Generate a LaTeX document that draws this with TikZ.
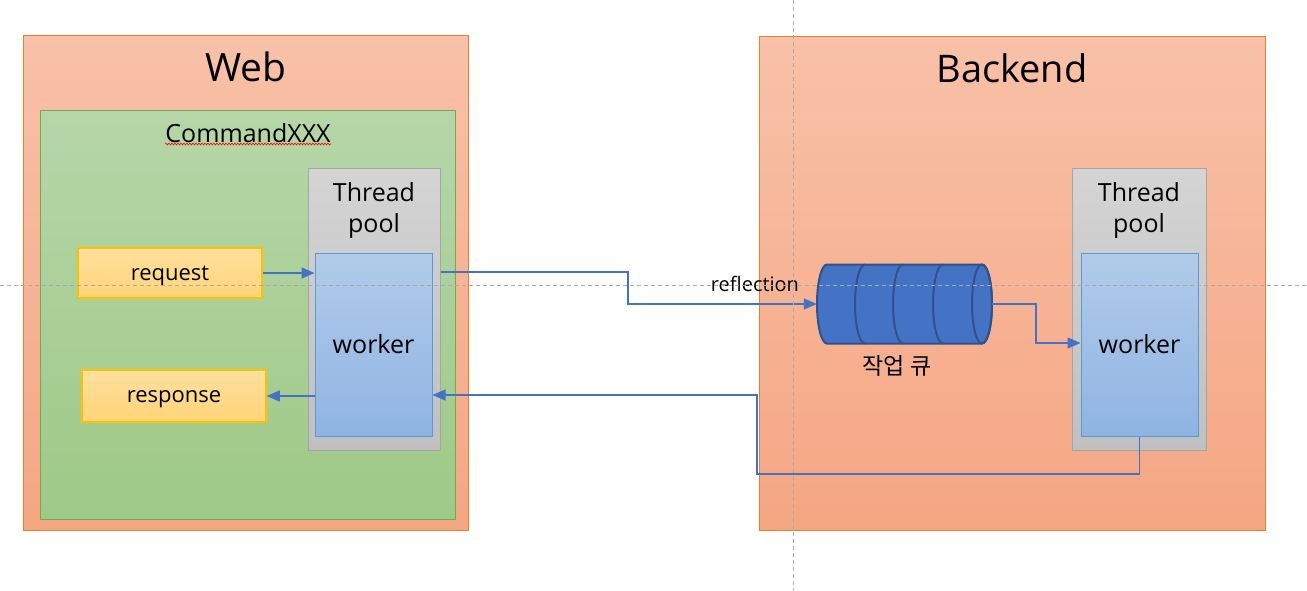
\documentclass[tikz,border=0pt]{standalone}
\usepackage{fontspec}
\setmainfont{Open Sans}
\newfontfamily\krfont{Noto Sans CJK KR}
\usetikzlibrary{arrows.meta,decorations.pathmorphing}
\definecolor{peachtop}{RGB}{248,193,168}
\definecolor{peachbot}{RGB}{245,166,131}
\definecolor{peachline}{RGB}{237,125,49}
\definecolor{greentop}{RGB}{182,214,168}
\definecolor{greenbot}{RGB}{158,201,134}
\definecolor{greenline}{RGB}{112,173,71}
\definecolor{graytop}{RGB}{212,212,212}
\definecolor{graybot}{RGB}{192,192,192}
\definecolor{grayline}{RGB}{165,165,165}
\definecolor{bluetop}{RGB}{178,203,233}
\definecolor{bluebot}{RGB}{143,180,227}
\definecolor{blueline}{RGB}{91,155,213}
\definecolor{yellowtop}{RGB}{255,224,158}
\definecolor{yellowbot}{RGB}{255,212,120}
\definecolor{yellowline}{RGB}{255,192,0}
\definecolor{flowblue}{RGB}{68,114,196}
\definecolor{queuedark}{RGB}{47,82,143}
\definecolor{guide}{RGB}{170,170,170}

\tikzset{
  tier/.style={draw=peachline, line width=1pt, top color=peachtop, bottom color=peachbot, inner sep=0pt},
  cmdbox/.style={draw=greenline, line width=1pt, top color=greentop, bottom color=greenbot, inner sep=0pt},
  poolbox/.style={draw=grayline, line width=1pt, top color=graytop, bottom color=graybot, inner sep=0pt},
  workbox/.style={draw=blueline, line width=1pt, top color=bluetop, bottom color=bluebot, inner sep=0pt,
    font=\fontsize{25}{30}\selectfont},
  msgbox/.style={draw=yellowline, line width=1.5pt, top color=yellowtop, bottom color=yellowbot, inner sep=0pt,
    minimum width=184, text depth=0pt, font=\fontsize{22}{26}\selectfont},
  flow/.style={draw=flowblue, line width=1.3pt, -{Triangle[length=13pt,width=11pt]}},
  qline/.style={draw=queuedark, line width=2pt}
}

\begin{document}
\begin{tikzpicture}[x=1pt,y=-1pt]
\useasboundingbox (0,0) rectangle (1307,590);
% Web side
\node[tier, minimum width=445, minimum height=495] (web) at (245.5,282.5) {};
\node[font=\fontsize{39}{46}\selectfont] (webtitle) at (246,67) {Web};
\node[cmdbox, minimum width=415, minimum height=409] (cmd) at (247.5,314.5) {};
\node[font=\fontsize{25}{30}\selectfont] (cmdtitle) at (248,133) {CommandXXX};
\draw[red, line width=0.6pt, decorate, decoration={snake, amplitude=0.9pt, segment length=3pt}]
  (165,144) -- (331,144);
\node[poolbox, minimum width=132, minimum height=282] (wpool) at (374,309) {};
\node[align=center, font=\fontsize{25}{31}\selectfont] (wpooltitle) at (374,210) {Thread\\pool};
\node[workbox, minimum width=117, minimum height=183] (wwork) at (373.5,344.5) {worker};
\node[msgbox, minimum height=50] (wreq) at (170,273) {request};
\node[msgbox, minimum height=52] (wres) at (174,396) {response};

% Backend side
\node[tier, minimum width=506, minimum height=494] (back) at (1012,283) {};
\node[font=\fontsize{38}{45}\selectfont] (backtitle) at (1012,68) {Backend};
\node[poolbox, minimum width=134, minimum height=282] (bpool) at (1139,309) {};
\node[align=center, font=\fontsize{25}{31}\selectfont] (bpooltitle) at (1139,210) {Thread\\pool};
\node[workbox, minimum width=117, minimum height=183] (bwork) at (1139.5,344.5) {worker};

% Queue
\node[minimum width=175, minimum height=79, inner sep=0pt] (queue) at (904.5,304) {};
\draw[qline, fill=flowblue] (827,264.5) -- (982,264.5)
  arc[start angle=90, end angle=-90, x radius=10pt, y radius=39.5pt] -- (827,343.5)
  arc[start angle=270, end angle=90, x radius=10pt, y radius=39.5pt] -- cycle;
\draw[qline] (982,304) ellipse[x radius=10pt, y radius=39.5pt];
\foreach \x in {865,903,943} {
  \draw[qline] (\x,264.5) arc[start angle=90, end angle=270, x radius=10pt, y radius=39.5pt];
}
\node[font=\krfont\fontsize{23}{27}\selectfont] (qlabel) at (897,366) {작업 큐};

% Connectors
\coordinate (jog1) at (628,304);
\coordinate (jog2) at (1036,343);
\coordinate (jog3) at (757,474);
\draw[flow] (wreq.east) -- (wwork.west |- wreq.east);
\draw[flow] (wwork.west |- wres.east) -- (wres.east);
\draw[flow] (wpool.east |- 0,272) -| (jog1) -- (queue.west);
\draw[flow] (queue.east) -| (jog2) -- (bwork.west |- jog2);
\draw[flow] (bwork.south) |- (jog3) |- (wwork.east |- 0,395);
\node[font=\fontsize{20}{24}\selectfont] (refl) at (755,284) {reflection};

% Guides
\draw[guide, line width=0.8pt, dash pattern=on 4pt off 3pt] (0,285) -- (1307,285);
\draw[guide, line width=0.8pt, dash pattern=on 4pt off 3pt] (793,0) -- (793,590);
\end{tikzpicture}
\end{document}
